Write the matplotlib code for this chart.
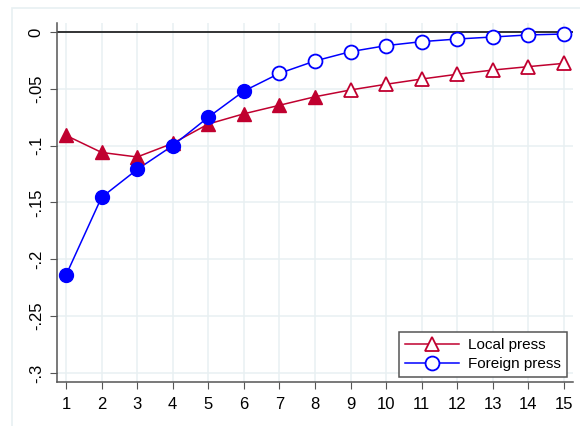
import numpy as np
import matplotlib.pyplot as plt
from matplotlib.lines import Line2D
from matplotlib.patches import Rectangle

plt.rcParams['font.family'] = ['Liberation Sans', 'DejaVu Sans']

# periods and estimated effects
periods = list(range(1, 16))
local = [-0.091, -0.106, -0.110, -0.098, -0.081, -0.072, -0.0645, -0.057,
         -0.051, -0.046, -0.0414, -0.0372, -0.0335, -0.0305, -0.0276]
foreign = [-0.214, -0.1455, -0.121, -0.100, -0.075, -0.052, -0.0364, -0.0255,
           -0.0173, -0.012, -0.0085, -0.0062, -0.0044, -0.0026, -0.0018]
# first n points are significant (filled markers)
local_sig = 8
foreign_sig = 6

yticks = [0, -0.05, -0.1, -0.15, -0.2, -0.25, -0.3]
ylabels = ['0', '-.05', '-.1', '-.15', '-.2', '-.25', '-.3']

red = '#c0002f'
blue = '#0000ff'
grid = '#e8f0f2'

fig = plt.figure(figsize=(5.8, 4.26), dpi=100)
fig.patches.append(Rectangle((12/580, -0.1), 1.2, 1 - 8/426 + 0.1,
                             transform=fig.transFigure, fill=False,
                             edgecolor=grid, linewidth=1.2))
ax = fig.add_axes([57/580, 1 - 382/426, (573 - 57)/580, (382 - 23)/426])

ax.set_xlim(0.747, 15.253)
ax.set_ylim(-0.308, 0.0079)
ax.set_xticks(periods)
ax.set_yticks(yticks)
ax.set_yticklabels(ylabels, rotation=90, va='center')
ax.grid(True, color=grid, linewidth=1.1)
ax.set_axisbelow(True)
ax.axhline(0, color='black', linewidth=1.1, zorder=2)

for s in ['top', 'right']:
    ax.spines[s].set_visible(False)
for s in ['left', 'bottom']:
    ax.spines[s].set_color('#555555')
    ax.spines[s].set_linewidth(1.1)
ax.tick_params(direction='out', length=5, color='#555555', labelsize=12,
               labelcolor='black')
ax.tick_params(axis='x', pad=5.5)
ax.tick_params(axis='y', pad=4.5)

x = np.array(periods)
l = np.array(local)
f = np.array(foreign)

ax.plot(x, l, color=red, linewidth=1.1, zorder=3)
ax.plot(x[:local_sig], l[:local_sig], '^', color=red, markersize=10, zorder=4)
ax.plot(x[local_sig:], l[local_sig:], '^', markerfacecolor='white',
        markeredgecolor=red, markeredgewidth=1.3, markersize=10, zorder=4)

ax.plot(x, f, color=blue, linewidth=1.1, zorder=3)
ax.plot(x[:foreign_sig], f[:foreign_sig], 'o', color=blue, markersize=10, zorder=4)
ax.plot(x[foreign_sig:], f[foreign_sig:], 'o', markerfacecolor='white',
        markeredgecolor=blue, markeredgewidth=1.3, markersize=10, zorder=4)

handles = [
    Line2D([], [], color=red, marker='^', markerfacecolor='white',
           markeredgecolor=red, markeredgewidth=1.3, markersize=10, linewidth=1.1),
    Line2D([], [], color=blue, marker='o', markerfacecolor='white',
           markeredgecolor=blue, markeredgewidth=1.3, markersize=10, linewidth=1.1),
]
leg = ax.legend(handles, ['Local press', 'Foreign press'], loc='lower right',
                bbox_to_anchor=(0.997, 0.0), fontsize=11, fancybox=False,
                framealpha=1, edgecolor='#555555', handlelength=3.5,
                borderpad=0.4, labelspacing=0.35, handletextpad=0.6,
                borderaxespad=0.3)
leg.get_frame().set_linewidth(1.1)

fig.savefig('out.png', dpi=100)
